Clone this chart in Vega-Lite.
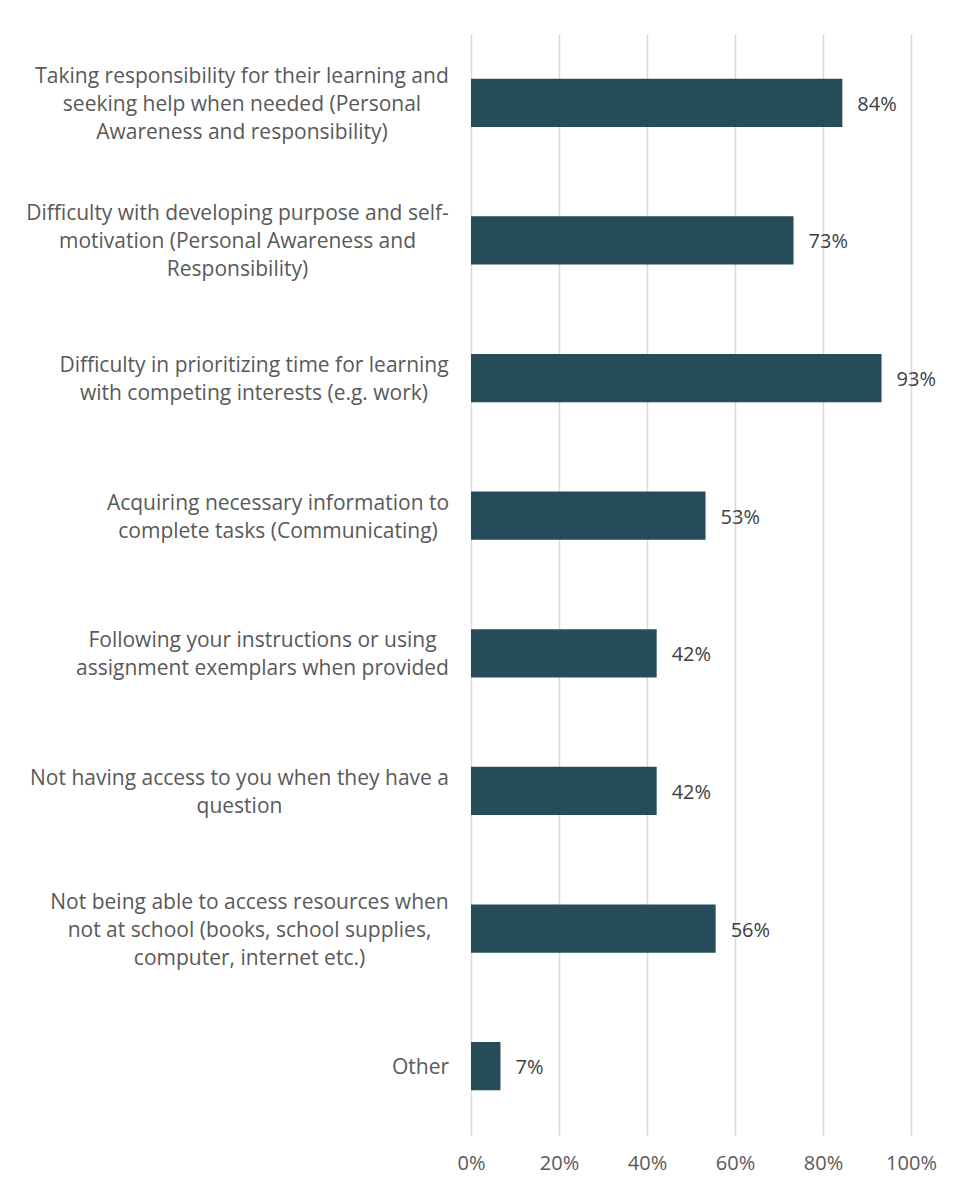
{
  "$schema": "https://vega.github.io/schema/vega-lite/v6.json",
  "width": 440,
  "height": 1101,
  "autosize": {"type": "none"},
  "padding": {"left": 471, "top": 34, "right": 47, "bottom": 57},
  "background": "#ffffff",
  "config": {
    "view": {"stroke": null},
    "font": "Open Sans"
  },
  "data": {
    "values": [
      {"item": "Taking responsibility for their learning and|seeking help when needed (Personal|Awareness and responsibility)", "pct": 0.844},
      {"item": "Difficulty with developing purpose and self-|motivation (Personal Awareness and|Responsibility)", "pct": 0.733},
      {"item": "Difficulty in prioritizing time for learning|with competing interests (e.g. work)", "pct": 0.933},
      {"item": "Acquiring necessary information to|complete tasks (Communicating)", "pct": 0.533},
      {"item": "Following your instructions or using|assignment exemplars when provided", "pct": 0.422},
      {"item": "Not having access to you when they have a|question", "pct": 0.422},
      {"item": "Not being able to access resources when|not at school (books, school supplies,|computer, internet etc.)", "pct": 0.556},
      {"item": "Other", "pct": 0.067}
    ]
  },
  "encoding": {
    "y": {
      "field": "item",
      "type": "nominal",
      "sort": null,
      "scale": {"paddingInner": 0.65, "paddingOuter": 0.325},
      "axis": {
        "title": null,
        "ticks": false,
        "domain": false,
        "grid": false,
        "labelExpr": "split(datum.label, '|')",
        "labelFontSize": 21,
        "labelColor": "#595959",
        "labelLineHeight": 28,
        "labelLimit": 0,
        "labelAlign": "center",
        "labelBaseline": "middle",
        "labelPadding": {
          "condition": [
            {"test": "indexof(datum.value, 'Taking') == 0", "value": 229.5},
            {"test": "indexof(datum.value, 'Difficulty with') == 0", "value": 234},
            {"test": "indexof(datum.value, 'Difficulty in') == 0", "value": 217.5},
            {"test": "indexof(datum.value, 'Acquiring') == 0", "value": 193.5},
            {"test": "indexof(datum.value, 'Following') == 0", "value": 209},
            {"test": "indexof(datum.value, 'Not having') == 0", "value": 232},
            {"test": "indexof(datum.value, 'Not being') == 0", "value": 222}
          ],
          "value": 51
        },
        "labelOffset": {
          "condition": [
            {"test": "length(split(datum.value, '|')) == 3", "value": -26},
            {"test": "length(split(datum.value, '|')) == 2", "value": -12}
          ],
          "value": 2
        }
      }
    },
    "x": {
      "field": "pct",
      "type": "quantitative",
      "scale": {"domain": [0, 1]},
      "axis": {
        "title": null,
        "format": ".0%",
        "values": [0, 0.2, 0.4, 0.6, 0.8, 1],
        "ticks": false,
        "domain": false,
        "grid": true,
        "gridColor": "#d9d9d9",
        "gridWidth": 1.5,
        "labelPadding": 18,
        "labelFontSize": 20,
        "labelColor": "#595959",
        "labelFlush": false
      }
    }
  },
  "layer": [
    {"mark": {"type": "bar", "color": "#264c5a"}},
    {
      "mark": {"type": "text", "align": "left", "dx": 15, "dy": 2, "fontSize": 20, "color": "#404040"},
      "encoding": {"text": {"field": "pct", "type": "quantitative", "format": ".0%"}}
    }
  ]
}
